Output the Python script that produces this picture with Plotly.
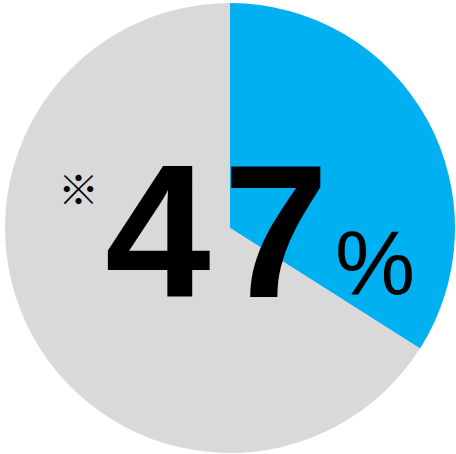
import plotly.graph_objects as go

W, H = 456, 454

labels = ["該当", "非該当"]
values = [34, 66]
colors = ["#00B0F0", "#D9D9D9"]

big_digits = ["4", "7"]
unit = "%"
note_mark = "※"


def px(x, y):
    # pixel position -> paper coordinates
    return x / W, 1 - y / H


fig = go.Figure()
fig.add_trace(go.Pie(
    labels=labels,
    values=values,
    marker=dict(colors=colors, line=dict(width=0)),
    sort=False,
    direction="clockwise",
    rotation=0,
    textinfo="none",
    hoverinfo="label+percent",
    showlegend=False,
    domain=dict(x=[5 / W, 455 / W], y=[1 / H, 451 / H]),
))

# big number, each digit placed on its own to get the wider spacing
for digit, cx in zip(big_digits, [158, 276]):
    x, y = px(cx, 231)
    fig.add_annotation(x=x, y=y, xref="paper", yref="paper", text=f"<b>{digit}</b>",
                       showarrow=False, xanchor="center", yanchor="middle",
                       font=dict(family="Liberation Sans, Arial", size=190, color="black"))
x, y = px(375, 263)
fig.add_annotation(x=x, y=y, xref="paper", yref="paper", text=unit,
                   showarrow=False, xanchor="center", yanchor="middle",
                   font=dict(family="Liberation Sans, Arial", size=90, color="black"))
x, y = px(78, 187)
fig.add_annotation(x=x, y=y, xref="paper", yref="paper", text=note_mark,
                   showarrow=False, xanchor="center", yanchor="middle",
                   font=dict(family="Noto Sans CJK JP", size=41, color="black"))

fig.update_layout(
    width=W, height=H,
    margin=dict(l=0, r=0, t=0, b=0),
    paper_bgcolor="white",
    plot_bgcolor="white",
)

fig.write_html("out.html", config={"displayModeBar": False},
               post_script="document.body.style.margin='0';")
